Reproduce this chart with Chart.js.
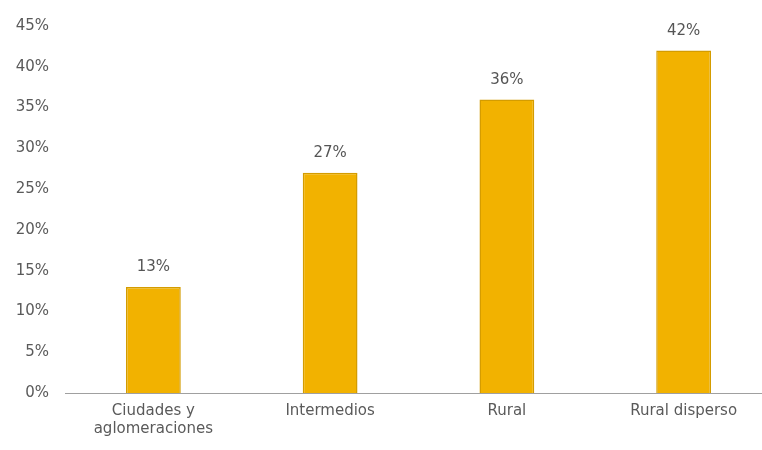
<!DOCTYPE html>
<html>
<head>
<meta charset="utf-8">
<script src="https://cdn.jsdelivr.net/npm/chart.js@4/dist/chart.umd.min.js"></script>
<style>
  html, body { margin: 0; padding: 0; background: #fff; overflow: hidden; }
  #wrap { width: 762px; height: 450px; overflow: hidden; }
</style>
</head>
<body>
<!-- canvas is a bit wider than the page: the axis line in the original runs off the right edge -->
<div id="wrap"><canvas id="chart" width="772" height="450"></canvas></div>
<script>
// ---- data ----
const categories = [['Ciudades y', 'aglomeraciones'], 'Intermedios', 'Rural', 'Rural disperso'];
const values = [13, 27, 36, 42];
const yTicks = [0, 5, 10, 15, 20, 25, 30, 35, 40, 45];

const FONT = '"DejaVu Sans", sans-serif';

// draws the value above each bar
const valueLabels = {
    id: 'valueLabels',
    afterDatasetsDraw(chart) {
        const ctx = chart.ctx;
        const meta = chart.getDatasetMeta(0);
        ctx.save();
        ctx.font = '15px ' + FONT;
        ctx.fillStyle = '#555';
        ctx.textAlign = 'center';
        ctx.textBaseline = 'bottom';
        meta.data.forEach((bar, i) => {
            ctx.fillText(values[i] + '%', bar.x, bar.y - 12);
        });
        ctx.restore();
    }
};

new Chart(document.getElementById('chart'), {
    type: 'bar',
    data: {
        labels: categories,
        datasets: [{
            data: values,
            backgroundColor: '#F2B200',
            borderColor: '#D49C00',
            borderWidth: 1.5,
            categoryPercentage: 1,
            barPercentage: 0.31
        }]
    },
    options: {
        responsive: false,
        animation: false,
        layout: { padding: { left: 7, right: 0, top: 26, bottom: 0 } },
        plugins: { legend: { display: false }, tooltip: { enabled: false } },
        scales: {
            x: {
                afterFit(scale) { scale.height = 57; },
                grid: { display: false, drawTicks: false },
                border: { color: '#a0a0a0', width: 1 },
                ticks: {
                    color: '#5a5a5a',
                    font: { family: FONT, size: 15 },
                    padding: 9,
                    maxRotation: 0
                }
            },
            y: {
                min: 0,
                max: 45,
                afterBuildTicks(scale) {
                    scale.ticks = yTicks.map(v => ({ value: v }));
                },
                afterFit(scale) { scale.width = 58; },
                grid: { display: false, drawTicks: false },
                border: { display: false },
                ticks: {
                    color: '#5a5a5a',
                    font: { family: FONT, size: 15 },
                    padding: 16,
                    callback: v => v + '%'
                }
            }
        }
    },
    plugins: [valueLabels]
});
</script>
</body>
</html>
